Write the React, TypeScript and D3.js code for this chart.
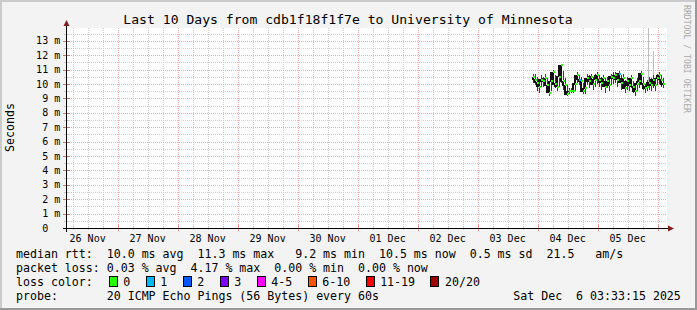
import React from "react";
import * as d3 from "d3";

const W = 697;
const H = 310;

const titleText = "Last 10 Days from cdb1f18f1f7e to University of Minnesota";
const yAxisTitle = "Seconds";
const watermark = "RRDTOOL / TOBI OETIKER";

const yTickValues = [0, 1, 2, 3, 4, 5, 6, 7, 8, 9, 10, 11, 12, 13];
const xDayLabels = ["26 Nov", "27 Nov", "28 Nov", "29 Nov", "30 Nov", "01 Dec", "02 Dec", "03 Dec", "04 Dec", "05 Dec"];
const xDayNoons = [
  Date.UTC(2025, 10, 26, 12), Date.UTC(2025, 10, 27, 12), Date.UTC(2025, 10, 28, 12),
  Date.UTC(2025, 10, 29, 12), Date.UTC(2025, 10, 30, 12), Date.UTC(2025, 11, 1, 12),
  Date.UTC(2025, 11, 2, 12), Date.UTC(2025, 11, 3, 12), Date.UTC(2025, 11, 4, 12),
  Date.UTC(2025, 11, 5, 12),
];
const timeStart = Date.UTC(2025, 10, 26, 3, 33, 15);
const timeEnd = Date.UTC(2025, 11, 6, 3, 33, 15);

// samples (ms), 48-minute consolidation steps
const sampleStart = Date.UTC(2025, 11, 3, 22, 10);
const sampleStepMin = 48;
const medianMs = [
  10.5, 10.3, 10.1, 9.8, 10.3, 10.2, 10.4, 9.9, 9.4, 10.2,
  10.8, 10.0, 9.8, 10.5, 11.3, 10.2, 9.9, 9.3, 9.5, 9.5,
  9.5, 10.0, 10.6, 10.3, 10.2, 9.5, 9.7, 10.4, 10.2, 10.5,
  10.0, 10.3, 10.6, 10.3, 10.1, 10.4, 9.8, 10.2, 9.9, 10.5,
  10.4, 10.6, 10.3, 10.7, 10.1, 10.4, 9.7, 10.2, 9.9, 10.4,
  9.8, 9.5, 10.0, 10.2, 10.7, 10.0, 9.7, 9.8, 10.1, 9.9,
  10.3, 9.9, 10.4, 10.6, 10.3, 10.0,
];
const smokeLowMs = [
  10.1, 9.9, 9.5, 9.4, 9.8, 9.8, 10.0, 9.6, 9.2, 9.5,
  10.0, 9.7, 9.5, 9.8, 10.1, 9.6, 9.4, 9.2, 9.3, 9.4,
  9.4, 9.5, 10.1, 9.9, 9.8, 9.3, 9.3, 9.9, 9.7, 9.9,
  9.6, 9.8, 10.0, 9.8, 9.6, 9.9, 9.4, 9.7, 9.5, 9.9,
  10.0, 10.1, 9.8, 10.1, 9.6, 9.8, 9.4, 9.6, 9.5, 9.7,
  9.4, 9.2, 9.5, 9.7, 10.1, 9.6, 9.4, 9.5, 9.6, 9.5,
  9.7, 9.5, 9.9, 10.0, 9.8, 9.7,
];
const smokeHighMs = [
  10.7, 10.7, 10.5, 10.3, 10.6, 10.5, 10.7, 10.4, 10.0, 10.6,
  11.0, 10.6, 10.2, 10.7, 11.4, 10.9, 10.4, 9.9, 9.7, 9.7,
  9.8, 10.5, 10.8, 10.6, 10.5, 10.1, 10.3, 10.7, 10.6, 10.7,
  10.5, 10.7, 10.8, 10.6, 10.5, 10.6, 10.4, 10.5, 10.4, 10.7,
  10.8, 10.8, 10.6, 10.9, 10.6, 10.7, 10.3, 10.5, 10.4, 10.6,
  10.2, 10.1, 10.4, 10.6, 10.9, 10.5, 10.0, 10.3, 10.5, 10.4,
  10.6, 10.4, 10.7, 10.8, 10.6, 10.4,
];
const lossCount = [
  0, 0, 0, 0, 0, 0, 0, 0, 0, 0,
  0, 0, 0, 0, 0, 0, 0, 0, 0, 0,
  0, 0, 0, 1, 0, 0, 0, 0, 0, 0,
  0, 0, 0, 0, 0, 0, 0, 0, 0, 0,
  0, 0, 0, 1, 0, 0, 0, 0, 0, 0,
  0, 0, 0, 0, 0, 0, 0, 0, 0, 0,
  0, 0, 0, 0, 0, 0,
];
// outlier smoke spikes
const spikeTimes = [Date.UTC(2025, 11, 5, 17, 24), Date.UTC(2025, 11, 5, 20, 0), Date.UTC(2025, 11, 5, 22, 18)];
const spikeHighMs = [10.9, 13.9, 12.3];
const spikeLowMs = [10.3, 10.0, 10.2];

const legendRtt = "median rtt:  10.0 ms avg  11.3 ms max   9.2 ms min  10.5 ms now  0.5 ms sd  21.5   am/s";
const legendLoss = "packet loss: 0.03 % avg  4.17 % max  0.00 % min  0.00 % now";
const legendLossTitle = "loss color:";
const lossLabels = ["0", "1", "2", "3", "4-5", "6-10", "11-19", "20/20"];
const lossColors = ["#26ff00", "#00b8ff", "#0059ff", "#7e00ff", "#ff00ff", "#ff5500", "#ff0000", "#a10000"];
const legendProbe = "probe:       20 ICMP Echo Pings (56 Bytes) every 60s";
const legendDate = "Sat Dec  6 03:33:15 2025";

const MONO = "'DejaVu Sans Mono', monospace";

export default function App() {
  const plotL = 67, plotR = 667, plotT = 28, plotB = 228;
  const x = d3.scaleUtc().domain([timeStart, timeEnd]).range([66.5, 666.5]);
  const y = d3.scaleLinear().domain([0, 13.89]).range([plotB, plotT]);

  const minorX = d3.utcHour.every(6)!.range(new Date(timeStart), new Date(timeEnd));
  const majorX = d3.utcDay.range(new Date(timeStart), new Date(timeEnd));
  const minorY = d3.range(1, 28).map((i) => i * 0.5).filter((v) => v % 1 !== 0);
  const majorY = yTickValues.filter((v) => v > 0);

  const stepMs = sampleStepMin * 60000;
  const samples = medianMs.map((m, i) => ({
    t0: sampleStart + i * stepMs,
    t1: sampleStart + (i + 1) * stepMs,
    m,
    lo: smokeLowMs[i],
    hi: smokeHighMs[i],
    loss: lossCount[i],
  }));

  const connector = d3.line<{ t0: number; t1: number; m: number }>()
    .x((d) => x(d.t0))
    .y((d) => y(d.m))
    .curve(d3.curveStepBefore)(samples);

  const legendCw = 6.985;
  let bx = 108.7;
  const boxes = lossLabels.map((lab, i) => {
    const item = { x: bx, lab, color: lossColors[i] };
    bx += 30 + legendCw * lab.length;
    return item;
  });

  const gx = (d: Date | number) => Math.round(x(d as any)) + 0.5;
  const gy = (v: number) => Math.round(y(v)) + 0.5;

  return (
    <svg width={W} height={H} style={{ position: "fixed", left: 0, top: 0 }} xmlns="http://www.w3.org/2000/svg">
      <rect x={0} y={0} width={W} height={H} fill="#f3f3f3" />
      {/* frame */}
      <rect x={0} y={0} width={W} height={2} fill="#cbcbcb" />
      <rect x={0} y={0} width={2} height={H} fill="#cbcbcb" />
      <rect x={0} y={H - 2} width={W} height={2} fill="#999999" />
      <rect x={W - 2} y={0} width={2} height={H} fill="#999999" />

      <rect x={plotL} y={plotT} width={plotR - plotL} height={plotB - plotT} fill="#ffffff" />

      {/* grid */}
      <g shapeRendering="crispEdges">
        {minorX.map((d, i) => (
          <line key={"mx" + i} x1={gx(d)} x2={gx(d)} y1={plotT} y2={plotB} stroke="#cfcfcf" strokeDasharray="1,1" />
        ))}
        {minorY.map((v, i) => (
          <line key={"my" + i} x1={plotL} x2={plotR} y1={gy(v)} y2={gy(v)} stroke="#cfcfcf" strokeDasharray="1,1" />
        ))}
        {majorX.map((d, i) => (
          <line key={"Mx" + i} x1={gx(d)} x2={gx(d)} y1={plotT} y2={plotB} stroke="#eeaaaa" strokeDasharray="1,1" />
        ))}
        {majorY.map((v, i) => (
          <line key={"My" + i} x1={plotL} x2={plotR} y1={gy(v)} y2={gy(v)} stroke="#eeaaaa" strokeDasharray="1,1" />
        ))}
      </g>

      {/* smoke + median */}
      <g shapeRendering="crispEdges">
        {spikeTimes.map((t, i) => (
          <line key={"sp" + i} x1={gx(t)} x2={gx(t)} y1={y(spikeHighMs[i])} y2={y(spikeLowMs[i])} stroke="#bdbdbd" strokeWidth={1} />
        ))}
        {samples.map((s, i) => (
          <rect key={"sm" + i} x={x(s.t0)} y={y(s.hi)} width={(x(s.t1) - x(s.t0)) * 0.6}
            height={y(s.lo) - y(s.hi)} fill="#3a3a3a" />
        ))}
        <path d={connector || ""} fill="none" stroke="#111" strokeWidth={1.2} />
        {samples.map((s, i) => (
          <line key={"md" + i} x1={x(s.t0)} x2={x(s.t1) - 0.4} y1={y(s.m)} y2={y(s.m)}
            stroke={lossColors[s.loss]} strokeWidth={2} />
        ))}
      </g>

      {/* axes */}
      <g shapeRendering="crispEdges">
        {minorX.map((d, i) => (
          <line key={"tx" + i} x1={gx(d)} x2={gx(d)} y1={226} y2={230} stroke="#c8c8c8" />
        ))}
        {majorX.map((d, i) => (
          <line key={"Tx" + i} x1={gx(d)} x2={gx(d)} y1={225} y2={231} stroke="#ee9090" />
        ))}
        {minorY.map((v, i) => (
          <line key={"ty" + i} x1={64} x2={69} y1={gy(v)} y2={gy(v)} stroke="#c8c8c8" />
        ))}
        {majorY.map((v, i) => (
          <line key={"Ty" + i} x1={63} x2={70} y1={gy(v)} y2={gy(v)} stroke="#d07070" />
        ))}
        <line x1={63} x2={669} y1={228.5} y2={228.5} stroke="#000" />
        <line x1={66.5} x2={66.5} y1={232} y2={25} stroke="#000" />
      </g>
      <path d="M668,225.5 L674,228.5 L668,231.5 Z" fill="#7f1f1f" />
      <path d="M63.5,26 L66.5,20 L69.5,26 Z" fill="#7f1f1f" />

      {/* tick labels */}
      <g fontFamily={MONO} fontSize={10} fill="#000">
        {yTickValues.map((v) => {
          const s = v === 0 ? "0" : `${v} m`;
          const len = v === 0 ? 3 : s.length;
          return (
            <text key={"yl" + v} x={60.2 - len * 6.02} y={y(v) + 3.6}>{s}</text>
          );
        })}
        {xDayNoons.map((t, i) => (
          <text key={"xl" + i} x={x(t)} y={242} textAnchor="middle">{xDayLabels[i]}</text>
        ))}
      </g>

      <text x={348} y={24} textAnchor="middle" fontFamily={MONO} fontSize={13.1} fill="#000">{titleText}</text>
      <text transform="translate(13.5,127.5) rotate(-90)" textAnchor="middle" fontFamily={MONO} fontSize={11.6} fill="#000">{yAxisTitle}</text>
      <text transform="translate(683.5,5) rotate(90)" fontFamily={MONO} fontSize={8.2} fill="#a8a8a8"
        textLength={108} lengthAdjust="spacingAndGlyphs">{watermark}</text>

      {/* legend */}
      <g fontFamily={MONO} fontSize={11.6} fill="#000" style={{ whiteSpace: "pre" }}>
        <text x={16} y={258} xmlSpace="preserve">{legendRtt}</text>
        <text x={16} y={272} xmlSpace="preserve">{legendLoss}</text>
        <text x={16} y={286} xmlSpace="preserve">{legendLossTitle}</text>
        {boxes.map((b, i) => (
          <g key={"lb" + i}>
            <rect x={Math.round(b.x) + 0.5} y={276.5} width={8} height={10} fill={b.color} stroke="#000" strokeWidth={1} shapeRendering="crispEdges" />
            <text x={b.x + 14.6} y={286}>{b.lab}</text>
          </g>
        ))}
        <text x={16} y={300} xmlSpace="preserve">{legendProbe}</text>
        <text x={513.3} y={300} xmlSpace="preserve">{legendDate}</text>
      </g>
    </svg>
  );
}
